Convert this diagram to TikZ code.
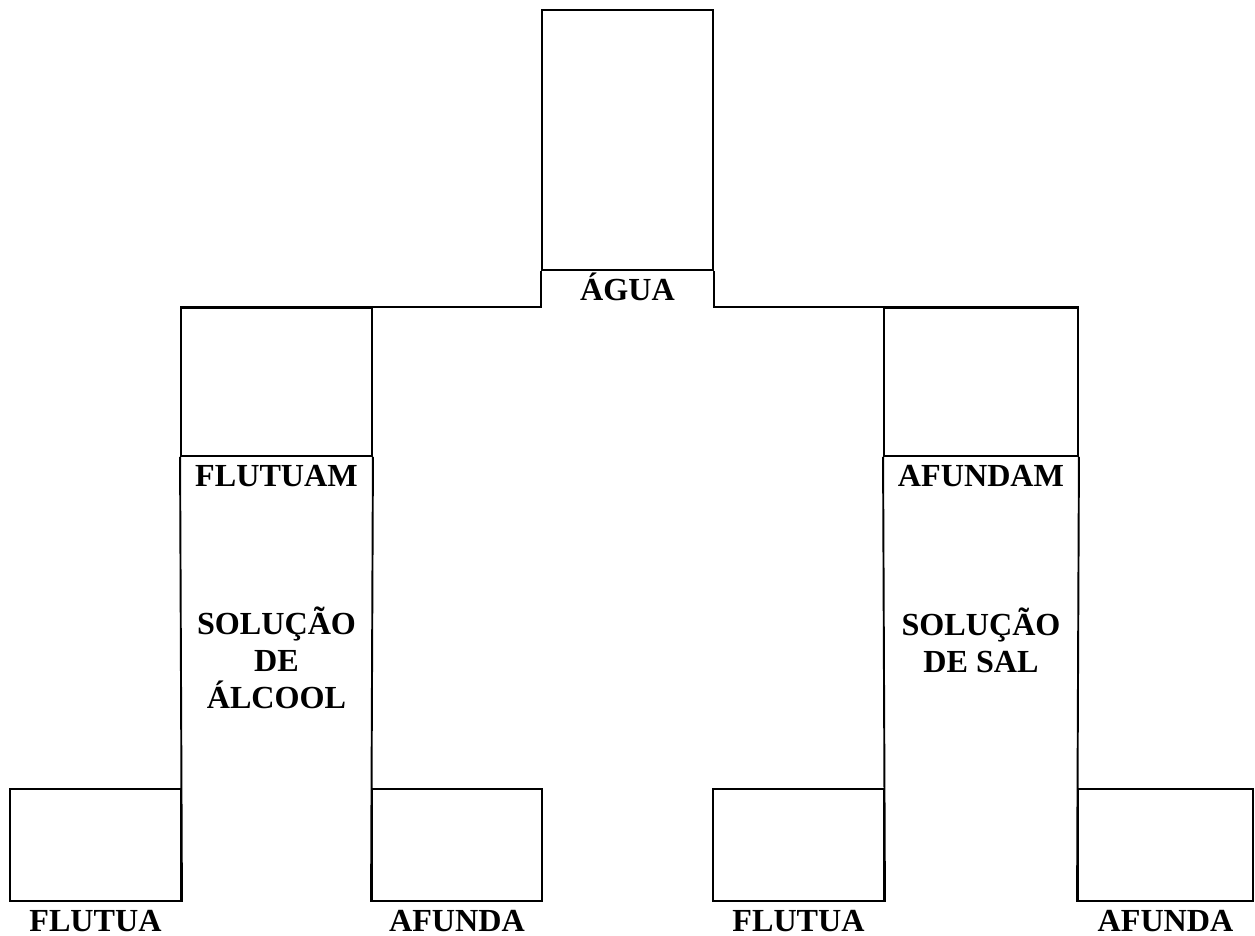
\documentclass[tikz,border=0pt]{standalone}
\usepackage{fontspec}
\setmainfont{Liberation Serif}
\usepackage{tikz}
\usetikzlibrary{positioning, calc}
\definecolor{mydark}{RGB}{0,0,0}
\tikzset{
  cell/.style={rectangle, draw=mydark, line width=1.1pt, inner sep=0pt},
  line/.style={line width=1.1pt, color=mydark},
  lbl/.style={font=\fontsize{18.3}{21}\selectfont\bfseries, anchor=base,
    align=center, inner sep=0pt}
}
\begin{document}
\begin{tikzpicture}[x=0.02cm, y=-0.02cm]
\useasboundingbox (0,0) rectangle (1255,936);

%--- WATER (top) ---
\node[cell, minimum width=3.42cm, minimum height=5.2cm] (agua) at (627.5,140) {};
\node[lbl] (aguatxt) at (627.5,300) {ÁGUA};

%--- ALCOHOL (left) ---
\node[cell, minimum width=3.82cm, minimum height=2.96cm] (flutuam) at (276.5,382) {};
\node[lbl] (flutuamtxt) at (276.5,486) {FLUTUAM};
% base anchor sits on the last line
\node[lbl] (alcool) at (276.5,708) {SOLUÇÃO\\DE\\ÁLCOOL};

%--- SALT (right) ---
\node[cell, minimum width=3.88cm, minimum height=2.96cm] (afundam) at (981,382) {};
\node[lbl] (afundamtxt) at (981,486) {AFUNDAM};
\node[lbl] (sal) at (981,672) {SOLUÇÃO\\DE SAL};

%--- RESULTS (bottom) ---
\node[cell, minimum width=3.42cm, minimum height=2.24cm] (r1) at (95.5,845) {};
\node[cell, minimum width=3.40cm, minimum height=2.24cm] (r2) at (457,845) {};
\node[cell, minimum width=3.42cm, minimum height=2.24cm] (r3) at (798.5,845) {};
\node[cell, minimum width=3.50cm, minimum height=2.24cm] (r4) at (1165.5,845) {};
\node[lbl] (r1txt) at (95.5,931) {FLUTUA};
\node[lbl] (r2txt) at (457,931) {AFUNDA};
\node[lbl] (r3txt) at (798.5,931) {FLUTUA};
\node[lbl] (r4txt) at (1165.5,931) {AFUNDA};

% branches
\draw[line] (agua.south west) |- (flutuam.north west);
\draw[line] (agua.south east) |- (afundam.north east);
\draw[line] (flutuam.south west) -- (r1.south east);
\draw[line] (flutuam.south east) -- (r2.south west);
\draw[line] (afundam.south west) -- (r3.south east);
\draw[line] (afundam.south east) -- (r4.south west);
\end{tikzpicture}
\end{document}
